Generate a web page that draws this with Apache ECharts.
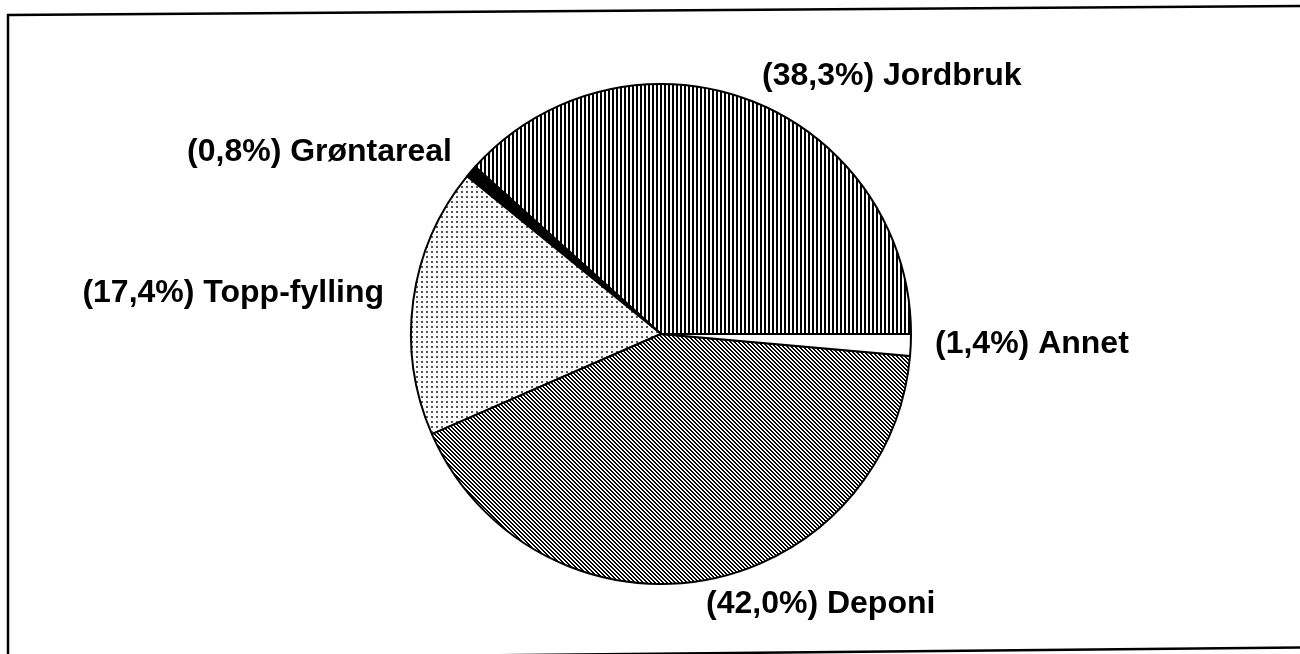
<!DOCTYPE html>
<html>
<head>
<meta charset="utf-8">
<script src="https://cdn.jsdelivr.net/npm/echarts@6/dist/echarts.min.js"></script>
<style>
html,body{margin:0;padding:0;background:#fff;}
#chart{width:1300px;height:654px;}
</style>
</head>
<body>
<div id="chart"></div>
<script>
// Data
const categories = ['Jordbruk', 'Grøntareal', 'Topp-fylling', 'Deponi', 'Annet'];
const values = [38.3, 0.8, 17.4, 42.0, 1.4];

// Label anchor positions (style only), keyed by category: [x, y, align]
const labelPos = {
  'Jordbruk': [762, 76, 'left'],
  'Grøntareal': [452, 152, 'right'],
  'Topp-fylling': [384, 293, 'right'],
  'Annet': [935, 344, 'left'],
  'Deponi': [706, 604, 'left']
};

function pattern(kind) {
  const c = document.createElement('canvas');
  const ctx = c.getContext('2d');
  if (kind === 'vert') {
    c.width = 4; c.height = 4;
    ctx.fillStyle = '#fff'; ctx.fillRect(0, 0, 4, 4);
    ctx.fillStyle = '#000'; ctx.fillRect(0, 0, 2, 4);
  } else if (kind === 'diag') {
    c.width = 4; c.height = 4;
    ctx.fillStyle = '#fff'; ctx.fillRect(0, 0, 4, 4);
    ctx.fillStyle = '#000';
    for (let i = 0; i < 4; i++) { ctx.fillRect(i, i, 1, 1); ctx.fillRect((i + 1) % 4, i, 1, 1); }
  } else if (kind === 'dots') {
    c.width = 5; c.height = 5;
    ctx.fillStyle = '#fff'; ctx.fillRect(0, 0, 5, 5);
    ctx.fillStyle = '#555'; ctx.fillRect(1, 1, 2, 2);
  }
  return { image: c, repeat: 'repeat' };
}

const fills = [pattern('vert'), '#000000', pattern('dots'), pattern('diag'), '#ffffff'];

function fmt(v, name) {
  return '(' + v.toFixed(1).replace('.', ',') + '%) ' + name;
}

const chart = echarts.init(document.getElementById('chart'), null, { renderer: 'canvas' });
chart.setOption({
  animation: false,
  backgroundColor: '#ffffff',
  graphic: [
    { type: 'polyline', silent: true, shape: { points: [[8, 662], [8, 15], [1302, 6]] }, style: { stroke: '#000', lineWidth: 2.5, fill: null } },
    { type: 'polyline', silent: true, shape: { points: [[8, 660], [1302, 647.5]] }, style: { stroke: '#000', lineWidth: 2.5, fill: null } }
  ],
  series: [{
    type: 'pie',
    center: [661, 334],
    radius: 250,
    startAngle: 0,
    clockwise: false,
    avoidLabelOverlap: false,
    silent: true,
    itemStyle: { borderColor: '#000', borderWidth: 2 },
    label: {
      show: true,
      position: 'outside',
      color: '#000',
      fontFamily: 'Liberation Sans, Arial, sans-serif',
      fontWeight: 'bold',
      fontSize: 32,
      formatter: p => fmt(p.value, p.name)
    },
    labelLine: { show: false },
    labelLayout: function (params) {
      let key = null;
      for (const c of categories) {
        if (params.text && params.text.indexOf(c) >= 0) { key = c; }
      }
      if (!key) { key = categories[params.dataIndex]; }
      const lp = labelPos[key];
      return { x: lp[0], y: lp[1], align: lp[2], verticalAlign: 'middle' };
    },
    data: categories.map((c, i) => ({ name: c, value: values[i], itemStyle: { color: fills[i] } }))
  }]
});
</script>
</body>
</html>
